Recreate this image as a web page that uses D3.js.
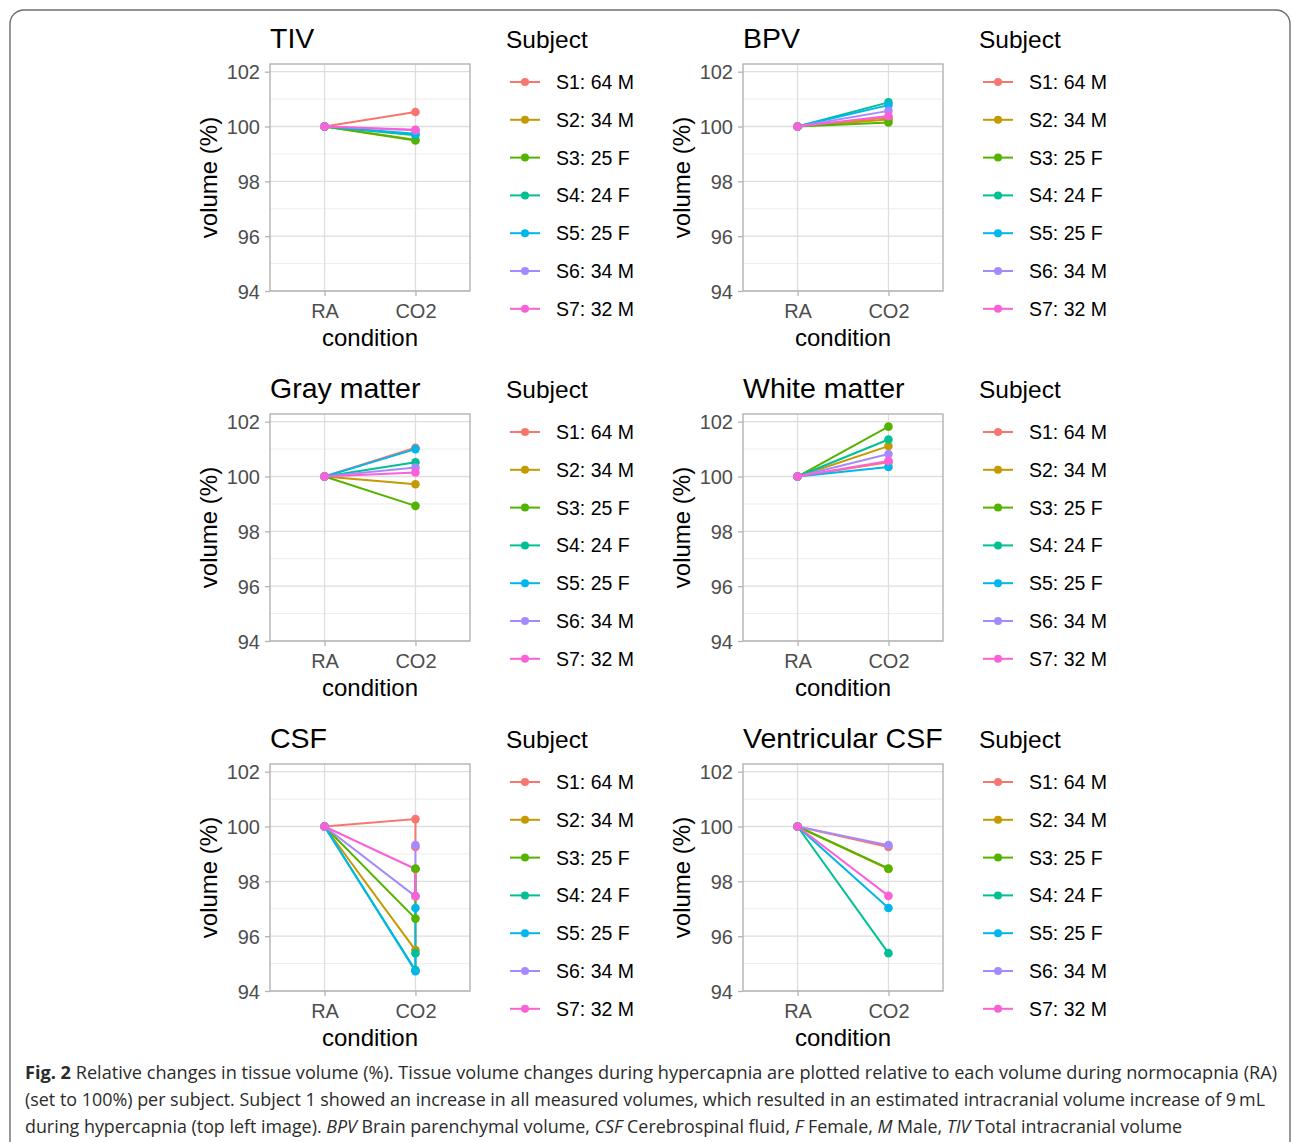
<!DOCTYPE html>
<html>
<head>
<meta charset="utf-8">
<script src="https://cdn.jsdelivr.net/npm/d3@7"></script>
<style>
  body { margin: 0; background: #fff; }
  svg { display: block; }
</style>
</head>
<body>
<div id="mainContainer"></div>
<script>
// categories
var conditions = ["RA", "CO2"];
var subjects = ["S1: 64 M", "S2: 34 M", "S3: 25 F", "S4: 24 F", "S5: 25 F", "S6: 34 M", "S7: 32 M"];
var panelTitles = ["TIV", "BPV", "Gray matter", "White matter", "CSF", "Ventricular CSF"];
var yTicks = [94, 96, 98, 100, 102];
var yMinorTicks = [95, 97, 99, 101];

// volumes (%) per subject, S1..S7
var raVolume   = [100, 100, 100, 100, 100, 100, 100];
var tivCO2     = [100.53, 99.52, 99.49, 99.68, 99.74, 99.86, 99.88];
var bpvCO2     = [100.33, 100.26, 100.15, 100.88, 100.78, 100.57, 100.38];
var grayCO2    = [101.05, 99.72, 98.93, 100.52, 101.0, 100.33, 100.15];
var whiteCO2   = [100.52, 101.11, 101.82, 101.35, 100.35, 100.82, 100.57];
var csfCO2     = [100.27, 95.49, 96.64, 94.76, 94.72, 97.45, 98.45];
var ventCO2    = [99.25, 98.45, 98.47, 95.38, 97.03, 99.32, 97.47];

var palette = ["#F8766D", "#C49A00", "#53B400", "#00C094", "#00B6EB", "#A58AFF", "#FB61D7"];

// each panel: list of CO2 series (CSF panel also carries the ventricular values)
var panelSeries = [[tivCO2], [bpvCO2], [grayCO2], [whiteCO2], [csfCO2, ventCO2], [ventCO2]];

var W = 1292, H = 1142;
var svg = d3.select('#mainContainer').append('svg')
    .attr('width', W)
    .attr('height', H);

// outer frame
svg.append('rect')
    .attr('x', 10).attr('y', 10)
    .attr('width', 1280).attr('height', 1160)
    .attr('rx', 14)
    .attr('fill', 'none')
    .attr('stroke', '#6e6e6e')
    .attr('stroke-width', 1.4);

var pw = 200, ph = 227;
var colX = [270, 743], rowY = [64, 414, 764];
var font = "'Liberation Sans', Arial, sans-serif";

var xscale = d3.scalePoint().domain(conditions).range([0, pw]).padding(0.6);
var yscale = d3.scaleLinear().domain([94, 102.28]).range([ph, 0]);
var color = d3.scaleOrdinal().domain(subjects).range(palette);

var line = d3.line()
    .x(function(d) { return xscale(d[0]); })
    .y(function(d) { return yscale(d[1]); });

panelTitles.forEach(function(title, p) {
    var ox = colX[p % 2], oy = rowY[Math.floor(p / 2)];
    var g = svg.append('g').attr('transform', 'translate(' + ox + ',' + oy + ')');

    // grid
    g.selectAll('.minor').data(yMinorTicks).enter().append('line')
        .attr('x1', 0).attr('x2', pw)
        .attr('y1', function(d) { return yscale(d); })
        .attr('y2', function(d) { return yscale(d); })
        .attr('stroke', '#ededed').attr('stroke-width', 1);
    g.selectAll('.major').data(yTicks).enter().append('line')
        .attr('x1', 0).attr('x2', pw)
        .attr('y1', function(d) { return yscale(d); })
        .attr('y2', function(d) { return yscale(d); })
        .attr('stroke', '#dedede').attr('stroke-width', 1.3);
    g.selectAll('.vgrid').data(conditions).enter().append('line')
        .attr('y1', 0).attr('y2', ph)
        .attr('x1', function(d) { return xscale(d); })
        .attr('x2', function(d) { return xscale(d); })
        .attr('stroke', '#dedede').attr('stroke-width', 1.3);

    // axes
    var yAxis = g.append('g')
        .call(d3.axisLeft(yscale).tickValues(yTicks).tickSize(5).tickPadding(5));
    var xAxis = g.append('g')
        .attr('transform', 'translate(0,' + ph + ')')
        .call(d3.axisBottom(xscale).tickSize(5).tickPadding(6));
    [yAxis, xAxis].forEach(function(a) {
        a.select('.domain').remove();
        a.selectAll('line').attr('stroke', '#b3b3b3').attr('stroke-width', 1.3);
        a.selectAll('text')
            .attr('fill', '#4d4d4d')
            .attr('font-family', font)
            .attr('font-size', '20px');
    });
    yAxis.selectAll('text').attr('dy', '0.36em');
    xAxis.selectAll('text').attr('dy', '0.8em');

    // border
    g.append('rect')
        .attr('width', pw).attr('height', ph)
        .attr('fill', 'none')
        .attr('stroke', '#b3b3b3')
        .attr('stroke-width', 1.4);

    // data: lines per subject, then points layer by layer (RA, then each CO2 series)
    var series = panelSeries[p];
    var paths = subjects.map(function(s, i) {
        var pts = [["RA", raVolume[i]]];
        series.forEach(function(arr) { pts.push(["CO2", arr[i]]); });
        return { subject: s, pts: pts };
    });
    g.selectAll('.subj').data(paths).enter().append('path')
        .attr('d', function(d) { return line(d.pts); })
        .attr('fill', 'none')
        .attr('stroke', function(d) { return color(d.subject); })
        .attr('stroke-width', 2);
    var layers = [["RA", raVolume]].concat(series.map(function(arr) { return ["CO2", arr]; }));
    layers.forEach(function(layer) {
        g.selectAll(null).data(subjects).enter().append('circle')
            .attr('cx', xscale(layer[0]))
            .attr('cy', function(d, i) { return yscale(layer[1][i]); })
            .attr('r', 4.3)
            .attr('fill', function(d) { return color(d); });
    });

    // titles
    g.append('text')
        .attr('x', 0).attr('y', -16)
        .attr('font-family', font).attr('font-size', '28.5px')
        .attr('fill', '#000')
        .text(title);
    g.append('text')
        .attr('x', pw / 2).attr('y', ph + 55)
        .attr('text-anchor', 'middle')
        .attr('font-family', font).attr('font-size', '24px')
        .attr('fill', '#000')
        .text('condition');
    g.append('text')
        .attr('transform', 'translate(-53,' + (ph / 2) + ') rotate(-90)')
        .attr('text-anchor', 'middle')
        .attr('font-family', font).attr('font-size', '24px')
        .attr('fill', '#000')
        .text('volume (%)');

    // legend
    var lg = g.append('g').attr('transform', 'translate(' + (pw + 36) + ',0)');
    lg.append('text')
        .attr('x', 0).attr('y', -16)
        .attr('font-family', font).attr('font-size', '24.5px')
        .attr('fill', '#000')
        .text('Subject');
    var item = lg.selectAll('.item').data(subjects).enter().append('g')
        .attr('transform', function(d, i) { return 'translate(0,' + (18 + i * 37.8) + ')'; });
    item.append('line')
        .attr('x1', 4).attr('x2', 34)
        .attr('stroke', function(d) { return color(d); })
        .attr('stroke-width', 2);
    item.append('circle')
        .attr('cx', 19).attr('r', 4)
        .attr('fill', function(d) { return color(d); });
    item.append('text')
        .attr('x', 50).attr('dy', '0.36em')
        .attr('font-family', font).attr('font-size', '19.5px')
        .attr('fill', '#000')
        .text(function(d) { return d; });
});

// caption
var capFont = "'Open Sans', 'Noto Sans', sans-serif";
var cap = svg.append('g')
    .attr('font-family', capFont)
    .attr('font-size', '18px')
    .attr('fill', '#2b2b2b');

var c1 = cap.append('text').attr('x', 25).attr('y', 1079)
    .attr('textLength', 1252).attr('lengthAdjust', 'spacingAndGlyphs');
c1.append('tspan').attr('font-weight', 'bold').text('Fig. 2');
c1.append('tspan').text(' Relative changes in tissue volume (%). Tissue volume changes during hypercapnia are plotted relative to each volume during normocapnia (RA)');

cap.append('text').attr('x', 25).attr('y', 1106)
    .attr('textLength', 1240).attr('lengthAdjust', 'spacingAndGlyphs')
    .text('(set to 100%) per subject. Subject 1 showed an increase in all measured volumes, which resulted in an estimated intracranial volume increase of 9\u2009mL');

var c3 = cap.append('text').attr('x', 25).attr('y', 1133)
    .attr('textLength', 1157).attr('lengthAdjust', 'spacingAndGlyphs');
var parts = [
    ['during hypercapnia (top left image). ', false],
    ['BPV', true], [' Brain parenchymal volume, ', false],
    ['CSF', true], [' Cerebrospinal fluid, ', false],
    ['F', true], [' Female, ', false],
    ['M', true], [' Male, ', false],
    ['TIV', true], [' Total intracranial volume', false]
];
parts.forEach(function(pt) {
    c3.append('tspan')
        .attr('font-style', pt[1] ? 'italic' : 'normal')
        .text(pt[0]);
});
</script>
</body>
</html>
